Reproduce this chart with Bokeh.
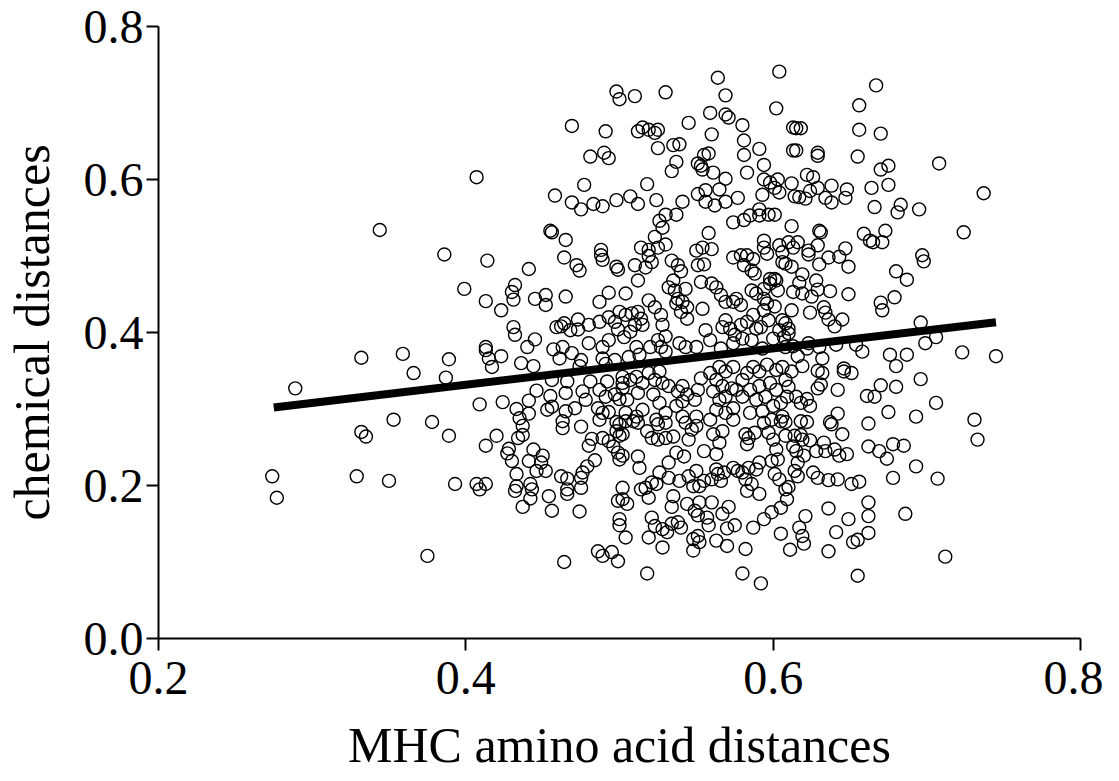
from bokeh.plotting import figure
from bokeh.models import Range1d, ColumnDataSource, FixedTicker, PrintfTickFormatter
from bokeh.embed import file_html
from bokeh.resources import INLINE

# ---- data (MHC amino acid distance, chemical distance) ----
pts_left = [(0.344,0.534),(0.332,0.367),(0.359,0.372),(0.366,0.347),(0.389,0.365),(0.387,0.341),(0.289,0.327),(0.353,0.286),(0.378,0.283),(0.332,0.270),(0.335,0.264),(0.389,0.265),(0.274,0.212),(0.277,0.184),(0.329,0.212),(0.350,0.206),(0.393,0.202),(0.375,0.108),(0.386,0.502)]

pts_upper_left = [(0.498,0.715),(0.500,0.705),(0.469,0.670),(0.491,0.663),(0.481,0.630),(0.490,0.635),(0.493,0.628),(0.407,0.603),(0.477,0.593),(0.458,0.579),(0.469,0.570),(0.475,0.561),(0.483,0.568),(0.489,0.565),(0.498,0.573),(0.455,0.533),(0.456,0.531),(0.465,0.521),(0.488,0.508)]

pts_upper_mid = [(0.604,0.741),(0.564,0.733),(0.510,0.709),(0.530,0.714),(0.569,0.710),(0.602,0.693),(0.559,0.687),(0.569,0.685),(0.571,0.681),(0.545,0.674),(0.580,0.671),(0.613,0.668),(0.512,0.663),(0.515,0.668),(0.519,0.665),(0.523,0.661),(0.525,0.665),(0.560,0.659),(0.581,0.651),(0.613,0.638),(0.525,0.641),(0.535,0.645),(0.539,0.646),(0.591,0.640),(0.581,0.632),(0.555,0.632),(0.558,0.634),(0.537,0.623),(0.551,0.621),(0.553,0.618),(0.534,0.611),(0.554,0.613),(0.561,0.609),(0.594,0.619),(0.583,0.609),(0.569,0.601),(0.594,0.600),(0.598,0.596),(0.603,0.600),(0.601,0.589),(0.604,0.583),(0.612,0.595),(0.518,0.594),(0.593,0.580),(0.614,0.578),(0.507,0.578),(0.512,0.568),(0.524,0.573),(0.541,0.571),(0.551,0.581),(0.556,0.586),(0.565,0.587),(0.556,0.571),(0.562,0.566),(0.569,0.571),(0.577,0.576),(0.530,0.554),(0.537,0.554),(0.526,0.546),(0.528,0.537),(0.574,0.544),(0.581,0.547),(0.585,0.553),(0.591,0.561),(0.591,0.553),(0.597,0.554),(0.601,0.554),(0.612,0.539),(0.558,0.530),(0.523,0.525),(0.514,0.511),(0.519,0.508),(0.530,0.515),(0.525,0.511),(0.550,0.507),(0.554,0.511),(0.560,0.509),(0.594,0.520),(0.594,0.511),(0.604,0.514),(0.610,0.518),(0.613,0.511)]

pts_upper_right = [(0.667,0.723),(0.656,0.697),(0.656,0.665),(0.670,0.660),(0.615,0.667),(0.618,0.667),(0.615,0.638),(0.629,0.635),(0.629,0.631),(0.655,0.630),(0.708,0.621),(0.670,0.613),(0.675,0.618),(0.622,0.606),(0.626,0.603),(0.629,0.589),(0.638,0.592),(0.648,0.587),(0.647,0.576),(0.634,0.576),(0.638,0.570),(0.617,0.577),(0.621,0.575),(0.624,0.585),(0.664,0.589),(0.675,0.593),(0.737,0.582),(0.666,0.564),(0.683,0.567),(0.681,0.557),(0.695,0.561),(0.630,0.533),(0.631,0.531),(0.724,0.531),(0.659,0.529),(0.663,0.520),(0.665,0.518),(0.671,0.518),(0.673,0.533),(0.629,0.514),(0.647,0.510),(0.616,0.518),(0.623,0.507)]

pts_mid_left = [(0.414,0.494),(0.464,0.498),(0.472,0.488),(0.474,0.481),(0.488,0.501),(0.489,0.495),(0.498,0.486),(0.499,0.482),(0.441,0.483),(0.399,0.457),(0.432,0.462),(0.430,0.453),(0.431,0.443),(0.413,0.441),(0.423,0.429),(0.445,0.444),(0.452,0.449),(0.452,0.436),(0.465,0.447),(0.493,0.452),(0.487,0.440),(0.459,0.407),(0.462,0.408),(0.464,0.412),(0.468,0.403),(0.473,0.417),(0.473,0.404),(0.480,0.410),(0.487,0.414),(0.493,0.420),(0.499,0.404),(0.497,0.414),(0.431,0.407),(0.432,0.397),(0.445,0.391),(0.440,0.381),(0.413,0.381),(0.413,0.377),(0.415,0.366),(0.417,0.355),(0.423,0.369),(0.436,0.360),(0.444,0.356),(0.457,0.378),(0.463,0.381),(0.461,0.366),(0.469,0.373),(0.480,0.386),(0.489,0.381),(0.493,0.390),(0.475,0.364),(0.474,0.356),(0.489,0.366),(0.491,0.359),(0.497,0.364),(0.456,0.338),(0.466,0.336),(0.481,0.336),(0.492,0.336),(0.502,0.334),(0.502,0.327),(0.446,0.324),(0.455,0.317),(0.465,0.321),(0.476,0.323),(0.487,0.325),(0.491,0.316),(0.497,0.319),(0.500,0.313),(0.409,0.306),(0.424,0.309),(0.441,0.311),(0.441,0.294),(0.433,0.300),(0.435,0.288),(0.437,0.278),(0.453,0.299),(0.456,0.303),(0.463,0.284),(0.465,0.297),(0.471,0.301),(0.478,0.312),(0.486,0.301),(0.489,0.295),(0.493,0.296),(0.498,0.283),(0.487,0.286),(0.475,0.277),(0.463,0.275)]

pts_low_left = [(0.413,0.252),(0.420,0.265),(0.437,0.266),(0.434,0.262),(0.428,0.248),(0.427,0.242),(0.430,0.232),(0.444,0.247),(0.441,0.232),(0.450,0.239),(0.449,0.230),(0.446,0.219),(0.452,0.219),(0.433,0.215),(0.407,0.202),(0.409,0.195),(0.413,0.202),(0.433,0.199),(0.432,0.193),(0.442,0.202),(0.443,0.195),(0.442,0.183),(0.437,0.172),(0.454,0.186),(0.456,0.167),(0.462,0.212),(0.466,0.209),(0.466,0.195),(0.466,0.189),(0.480,0.252),(0.482,0.261),(0.489,0.262),(0.493,0.258),(0.498,0.271),(0.500,0.280),(0.500,0.265),(0.496,0.251),(0.499,0.243),(0.502,0.239),(0.500,0.234),(0.484,0.233),(0.479,0.225),(0.476,0.217),(0.475,0.210),(0.475,0.197),(0.474,0.166),(0.502,0.197),(0.499,0.180),(0.502,0.182),(0.500,0.156),(0.500,0.148),(0.504,0.132),(0.486,0.114),(0.489,0.108),(0.495,0.113),(0.499,0.101),(0.464,0.100)]

pts_mid_right = [(0.623,0.502),(0.636,0.498),(0.643,0.499),(0.649,0.486),(0.630,0.489),(0.608,0.490),(0.612,0.486),(0.697,0.501),(0.698,0.493),(0.680,0.480),(0.687,0.469),(0.619,0.476),(0.617,0.465),(0.628,0.468),(0.613,0.453),(0.619,0.451),(0.625,0.447),(0.629,0.456),(0.637,0.454),(0.649,0.450),(0.670,0.439),(0.671,0.429),(0.679,0.446),(0.612,0.429),(0.624,0.426),(0.633,0.433),(0.634,0.426),(0.636,0.417),(0.640,0.408),(0.645,0.417),(0.608,0.412),(0.610,0.405),(0.610,0.399),(0.696,0.413),(0.706,0.394),(0.699,0.386),(0.658,0.375),(0.676,0.371),(0.687,0.371),(0.680,0.356),(0.723,0.374),(0.745,0.369),(0.623,0.386),(0.630,0.381),(0.641,0.384),(0.654,0.384),(0.622,0.379),(0.613,0.382),(0.608,0.381),(0.616,0.369),(0.632,0.366),(0.619,0.356),(0.629,0.350),(0.632,0.347),(0.646,0.353),(0.646,0.349),(0.651,0.347),(0.629,0.327),(0.631,0.332),(0.642,0.325),(0.608,0.338),(0.610,0.329),(0.615,0.316),(0.618,0.308),(0.622,0.313),(0.624,0.304),(0.670,0.331),(0.661,0.317),(0.666,0.316),(0.680,0.329),(0.696,0.339),(0.706,0.308),(0.675,0.296),(0.693,0.290),(0.731,0.286),(0.642,0.294),(0.637,0.283),(0.638,0.280),(0.662,0.281),(0.618,0.284),(0.622,0.283),(0.608,0.283)]

pts_low_right = [(0.645,0.267),(0.733,0.260),(0.662,0.251),(0.669,0.245),(0.674,0.235),(0.678,0.254),(0.685,0.252),(0.693,0.225),(0.707,0.209),(0.678,0.210),(0.614,0.265),(0.618,0.266),(0.619,0.260),(0.624,0.259),(0.613,0.251),(0.615,0.245),(0.620,0.239),(0.628,0.245),(0.633,0.256),(0.634,0.245),(0.640,0.247),(0.643,0.239),(0.648,0.241),(0.616,0.230),(0.614,0.219),(0.616,0.212),(0.626,0.217),(0.629,0.210),(0.636,0.207),(0.642,0.208),(0.651,0.202),(0.656,0.205),(0.610,0.198),(0.609,0.182),(0.662,0.178),(0.662,0.160),(0.662,0.138),(0.636,0.170),(0.649,0.156),(0.621,0.160),(0.617,0.145),(0.619,0.134),(0.620,0.124),(0.641,0.139),(0.652,0.126),(0.655,0.129),(0.636,0.114),(0.611,0.116),(0.686,0.163),(0.712,0.107),(0.655,0.082)]

pts_low_mid = [(0.504,0.284),(0.509,0.284),(0.512,0.282),(0.502,0.267),(0.518,0.271),(0.525,0.280),(0.530,0.282),(0.521,0.262),(0.525,0.260),(0.530,0.262),(0.535,0.264),(0.543,0.282),(0.547,0.273),(0.550,0.278),(0.545,0.260),(0.561,0.267),(0.567,0.271),(0.565,0.256),(0.555,0.245),(0.563,0.241),(0.574,0.286),(0.582,0.267),(0.584,0.262),(0.583,0.254),(0.588,0.269),(0.594,0.282),(0.597,0.269),(0.600,0.260),(0.605,0.284),(0.608,0.265),
(0.512,0.238),(0.513,0.223),(0.532,0.230),(0.537,0.243),(0.542,0.238),(0.526,0.217),(0.521,0.204),(0.524,0.202),(0.517,0.197),(0.514,0.195),(0.505,0.176),(0.519,0.184),
(0.532,0.210),(0.539,0.206),(0.545,0.212),(0.550,0.219),(0.548,0.199),(0.552,0.199),(0.555,0.206),(0.560,0.208),(0.564,0.215),(0.568,0.217),(0.566,0.206),(0.563,0.221),(0.574,0.223),(0.577,0.219),(0.580,0.217),(0.584,0.223),(0.589,0.221),(0.591,0.230),(0.582,0.208),(0.586,0.202),(0.583,0.193),(0.591,0.189),(0.599,0.232),(0.602,0.247),(0.603,0.234),(0.601,0.215),(0.604,0.208),(0.608,0.195),
(0.535,0.186),(0.534,0.172),(0.544,0.176),(0.552,0.178),(0.560,0.178),(0.549,0.167),(0.551,0.161),(0.557,0.158),(0.558,0.148),(0.567,0.163),(0.571,0.172),(0.570,0.144),(0.575,0.148),(0.563,0.128),(0.570,0.121),(0.582,0.117),(0.587,0.145),(0.594,0.156),(0.599,0.165),(0.605,0.171),(0.605,0.137),
(0.521,0.158),(0.523,0.147),(0.519,0.132),(0.528,0.143),(0.531,0.139),(0.528,0.119),(0.534,0.150),(0.538,0.152),(0.540,0.145),(0.548,0.130),(0.551,0.134),(0.552,0.126),(0.548,0.115),
(0.518,0.085),(0.580,0.085),(0.592,0.072)]

pts_center = [(0.519,0.500),(0.521,0.492),(0.517,0.485),(0.510,0.488),(0.534,0.494),(0.538,0.488),(0.540,0.480),(0.535,0.468),(0.551,0.488),(0.555,0.489),(0.553,0.466),(0.574,0.498),(0.579,0.501),(0.583,0.501),(0.587,0.496),(0.581,0.488),(0.586,0.481),(0.588,0.477),(0.596,0.503),(0.606,0.505),(0.606,0.492),(0.598,0.470),(0.602,0.468),
(0.512,0.468),(0.504,0.451),(0.500,0.427),(0.504,0.423),(0.508,0.425),(0.512,0.427),(0.514,0.418),(0.510,0.410),(0.515,0.410),(0.507,0.401),(0.503,0.394),
(0.519,0.442),(0.523,0.433),(0.527,0.423),(0.528,0.410),(0.530,0.395),(0.525,0.390),(0.520,0.381),(0.527,0.381),(0.511,0.381),
(0.532,0.459),(0.536,0.455),(0.543,0.457),(0.538,0.444),(0.541,0.440),(0.544,0.433),(0.540,0.427),(0.544,0.418),(0.537,0.438),
(0.554,0.431),(0.556,0.403),(0.559,0.390),(0.550,0.381),(0.543,0.381),(0.539,0.386),
(0.560,0.464),(0.563,0.459),(0.566,0.449),(0.569,0.440),(0.574,0.440),(0.576,0.444),(0.579,0.436),(0.569,0.416),(0.567,0.407),(0.572,0.405),(0.575,0.397),(0.579,0.410),(0.583,0.414),(0.587,0.423),(0.589,0.405),(0.592,0.407),(0.586,0.390),(0.580,0.392),(0.574,0.386),
(0.586,0.455),(0.589,0.451),(0.594,0.457),(0.598,0.464),(0.601,0.470),(0.603,0.455),(0.594,0.444),(0.596,0.438),(0.601,0.434),(0.606,0.416),(0.604,0.403),(0.607,0.394),(0.600,0.392),(0.597,0.416),(0.594,0.429),
(0.506,0.368),(0.513,0.371),(0.530,0.375),(0.566,0.379),(0.593,0.379),
(0.502,0.342),(0.507,0.338),(0.511,0.342),(0.515,0.334),(0.505,0.312),(0.512,0.321),(0.519,0.347),(0.523,0.338),(0.526,0.349),(0.528,0.334),(0.532,0.330),(0.522,0.319),(0.526,0.308),(0.538,0.323),(0.541,0.330),(0.544,0.319),(0.541,0.310),(0.537,0.304),(0.549,0.312),(0.551,0.325),(0.553,0.340),(0.559,0.347),(0.565,0.355),(0.569,0.349),(0.574,0.355),(0.563,0.338),(0.567,0.330),(0.573,0.327),(0.561,0.323),(0.565,0.312),(0.569,0.316),(0.576,0.325),(0.580,0.338),(0.583,0.347),(0.587,0.355),(0.591,0.349),(0.596,0.358),(0.602,0.351),(0.606,0.355),(0.612,0.349),(0.585,0.325),(0.591,0.330),(0.598,0.334),(0.602,0.325),(0.580,0.316),(0.589,0.312),(0.595,0.316),(0.600,0.304),(0.605,0.308),(0.609,0.316),(0.585,0.295),(0.593,0.297),(0.599,0.286),(0.606,0.290),(0.563,0.299),(0.569,0.295),(0.574,0.301),(0.559,0.286),(0.550,0.290),(0.541,0.290),(0.530,0.295),(0.524,0.286),(0.515,0.299),(0.511,0.290),(0.504,0.295)]

# regression line end points
fit_x = [0.275, 0.745]
fit_y = [0.302, 0.4135]

x_ticks = [0.2, 0.4, 0.6, 0.8]
y_ticks = [0.0, 0.2, 0.4, 0.6, 0.8]
x_label = "MHC amino acid distances"
y_label = "chemical distances"

all_pts = (pts_left + pts_upper_left + pts_upper_mid + pts_upper_right + pts_mid_left
           + pts_low_left + pts_mid_right + pts_low_right + pts_low_mid + pts_center)
src = ColumnDataSource(dict(x=[p_[0] for p_ in all_pts], y=[p_[1] for p_ in all_pts]))

FONT = "Liberation Serif"

p = figure(frame_width=922, frame_height=612, x_range=Range1d(0.2, 0.8), y_range=Range1d(0.0, 0.8),
           output_backend="svg", toolbar_location=None,
           min_border_left=158, min_border_right=23, min_border_top=26, min_border_bottom=10)
p.outline_line_color = None
p.xgrid.visible = False
p.ygrid.visible = False
p.background_fill_color = "white"
p.border_fill_color = "white"

p.scatter("x", "y", source=src, marker="circle", size=13, fill_color=None,
          line_color="black", line_width=1.4)
p.line(fit_x, fit_y, line_color="black", line_width=8, line_cap="butt")

for ax, ticks in ((p.xaxis, x_ticks), (p.yaxis, y_ticks)):
    ax.ticker = FixedTicker(ticks=ticks)
    ax.formatter = PrintfTickFormatter(format="%.1f")
    ax.minor_tick_line_color = None
    ax.major_tick_out = 12
    ax.major_tick_in = 0
    ax.major_tick_line_width = 2
    ax.axis_line_width = 2
    ax.axis_line_color = "black"
    ax.major_tick_line_color = "black"
    ax.major_label_text_font = FONT
    ax.major_label_text_font_size = "48px"
    ax.major_label_text_color = "black"
    ax.axis_label_text_font = FONT
    ax.axis_label_text_font_size = "50px"
    ax.axis_label_text_font_style = "normal"
    ax.axis_label_text_color = "black"

p.xaxis.axis_label = x_label
p.yaxis.axis_label = y_label
p.xaxis.major_label_standoff = 11
p.yaxis.major_label_standoff = 3
p.xaxis.axis_label_standoff = 20
p.yaxis.axis_label_standoff = 21

open("out.html", "w").write(file_html(p, INLINE))
